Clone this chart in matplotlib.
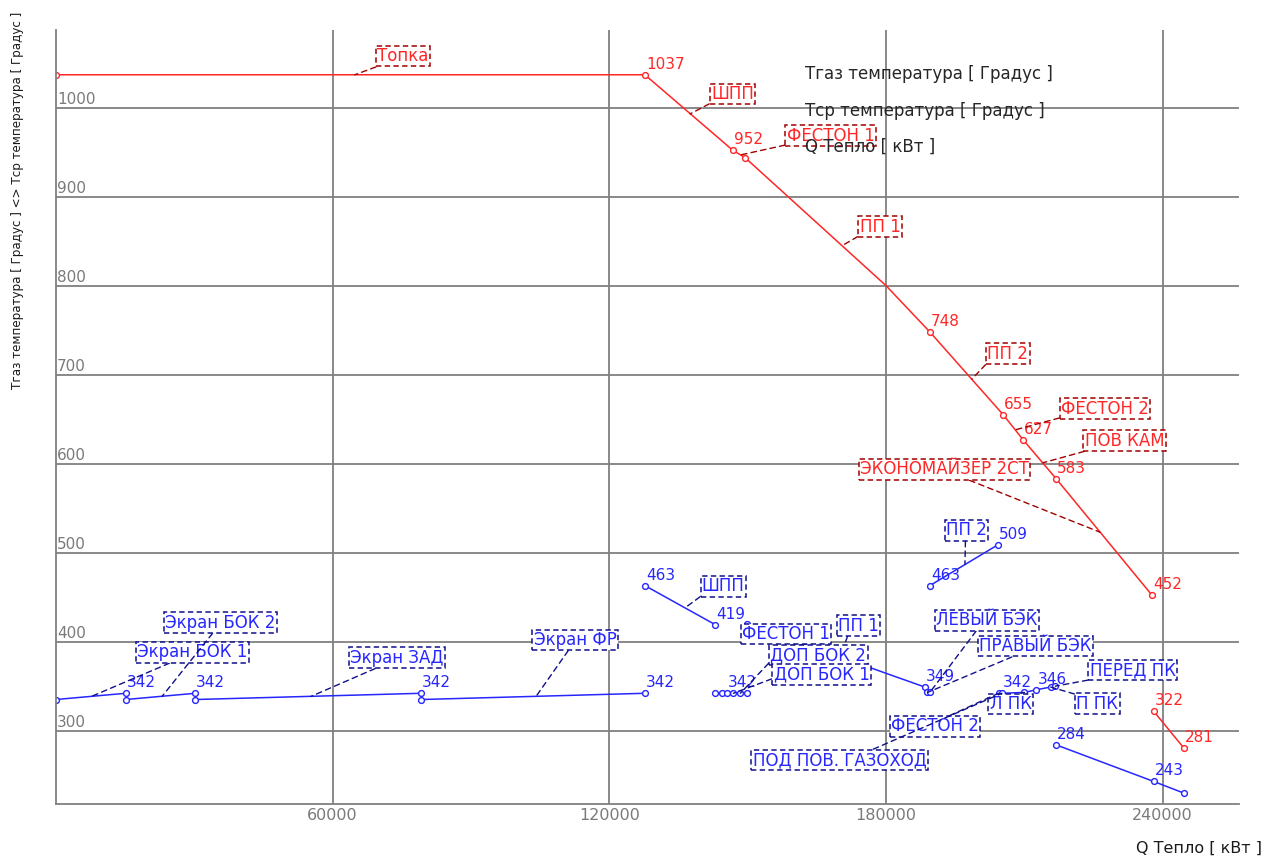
import matplotlib
matplotlib.use("Agg")
import matplotlib.pyplot as plt

# ---------------- data ----------------
# Gas temperature (red) main path
gas_q = [0, 127700, 146800, 149400, 180000, 189500, 205400, 209700, 216900, 237700]
gas_t = [1037, 1037, 952, 944, 800, 748, 655, 627, 583, 452]
gas_marked = [0, 1, 2, 3, 5, 6, 7, 8, 9]
gas_q2 = [238000, 244500]
gas_t2 = [322, 281]

# Medium temperature (blue) segments
seg_bok1_q, seg_bok1_t = [0, 15100], [335, 342]
seg_bok2_q, seg_bok2_t = [15100, 30200], [335, 342]
seg_zad_q, seg_zad_t = [30200, 79200], [335, 342]
seg_fr_q, seg_fr_t = [79200, 127700], [335, 342]
seg_shpp_q, seg_shpp_t = [127700, 143000], [463, 419]
seg_dop_q = [142900, 144400, 145500, 146900, 148400, 149800]
seg_dop_t = [342, 342, 342, 342, 342, 342]
seg_fest1_q, seg_fest1_t = [149800, 188400], [420, 349]
seg_bek_q, seg_bek_t = [188800, 189500], [343, 343]
seg_pp2_q, seg_pp2_t = [189500, 204300], [463, 509]
seg_pk_q = [204400, 205100, 210000, 212600, 215700, 216700]
seg_pk_t = [342, 342, 343, 346, 349, 350]
seg_eco_q, seg_eco_t = [216900, 238000, 244500], [284, 243, 230]

# value labels (Q, T)
red_val_q = [127700, 146800, 189500, 205400, 209700, 216900, 237700, 238000, 244500]
red_val_t = [1037, 952, 748, 655, 627, 583, 452, 322, 281]
blue_val_q = [15100, 30200, 79200, 127700, 127700, 143000, 145500, 188400, 189500, 204300,
              205100, 212600, 216900, 238000]
blue_val_t = [342, 342, 342, 342, 463, 419, 342, 349, 463, 509, 342, 346, 284, 243]

# section labels: text, box centre (Q, T), leader target (Q, T), relpos
red_labels = [
    ("Топка", (75150, 1058), (64800, 1037), (0.08, 0.0)),
    ("ШПП", (146700, 1015.5), (137500, 993), (0.0, 0.0)),
    ("ФЕСТОН 1", (168000, 968.5), (148500, 947), (0.0, 0.0)),
    ("ПП 1", (178700, 866.5), (170800, 846), (0.0, 0.0)),
    ("ПП 2", (206400, 723.5), (198600, 695), (0.0, 0.0)),
    ("ФЕСТОН 2", (227500, 662), (208000, 638), (0.0, 0.0)),
    ("ПОВ КАМ", (231700, 626), (214000, 601), (0.08, 0.0)),
    ("ЭКОНОМАЙЗЕР 2СТ", (192700, 593.5), (226400, 523), (0.62, 0.0)),
]
blue_labels = [
    ("Экран БОК 1", (29600, 388), (7700, 338.5), (0.33, 0.0)),
    ("Экран БОК 2", (35700, 421.5), (23000, 338.5), (0.44, 0.0)),
    ("Экран ЗАД", (74000, 382), (55300, 338.5), (0.31, 0.0)),
    ("Экран ФР", (112600, 402), (104100, 338.5), (0.43, 0.0)),
    ("ШПП", (144700, 462), (136400, 438), (0.0, 0.0)),
    ("ФЕСТОН 1", (158300, 408.5), (162400, 397), (0.44, 0.0)),
    ("ПП 1", (174000, 418), (170000, 383), (0.25, 0.0)),
    ("ДОП БОК 2", (165300, 385), (148400, 342), (0.01, 0.2)),
    ("ДОП БОК 1", (166000, 363), (146900, 342), (0.0, 0.3)),
    ("ЛЕВЫЙ БЭК", (201800, 424), (189500, 343), (0.41, 0.0)),
    ("ПРАВЫЙ БЭК", (212400, 395), (189000, 343), (0.33, 0.0)),
    ("ПП 2", (197400, 525), (197100, 487), (0.48, 0.0)),
    ("ПЕРЕД ПК", (233500, 368), (216700, 350), (0.04, 0.0)),
    ("П ПК", (225800, 330.5), (215700, 349), (0.0, 1.0)),
    ("Л ПК", (207000, 330), (210000, 343), (0.5, 1.0)),
    ("ФЕСТОН 2", (190600, 304.7), (204400, 342), (0.62, 1.0)),
    ("ПОД ПОВ. ГАЗОХОД", (169900, 267), (205100, 342), (0.67, 1.0)),
]

x_ticks = [60000, 120000, 180000, 240000]
y_ticks = [300, 400, 500, 600, 700, 800, 900, 1000]
legend_lines = ["Tгаз температура [ Градус ]", "Tср температура [ Градус ]", "Q Тепло [ кВт ]"]

# ---------------- style ----------------
RED = "#ff2626"
RED_DARK = "#a00000"
BLUE = "#2626ff"
BLUE_DARK = "#10108a"
GRID = "#808080"
TICK = "#7a7a7a"
FS = 11
FS_BOX = 12

plt.rcParams["font.family"] = ["DejaVu Sans"]

fig = plt.figure(figsize=(12.8, 8.57), dpi=100)
ax = fig.add_axes([56 / 1280, 1 - 804 / 857, (1239.3 - 56) / 1280, (804 - 30) / 857])
ax.set_xlim(0, 256600)
ax.set_ylim(217.6, 1087.3)

for s in ("top", "right"):
    ax.spines[s].set_visible(False)
for s in ("left", "bottom"):
    ax.spines[s].set_color(GRID)
    ax.spines[s].set_linewidth(1.3)

ax.set_xticks(x_ticks)
ax.set_xticklabels([str(v) for v in x_ticks])
ax.set_yticks(y_ticks)
ax.set_yticklabels([])
ax.tick_params(axis="x", length=0, pad=3, labelsize=11.5, labelcolor=TICK)
ax.tick_params(axis="y", length=0)
ax.grid(True, color=GRID, linewidth=1.3)
ax.set_axisbelow(True)

for v in y_ticks:
    ax.annotate(str(v), xy=(0, v), xycoords=("axes fraction", "data"),
                xytext=(1, 4), textcoords="offset pixels", va="baseline", ha="left",
                fontsize=11, color=TICK)

mk = dict(marker="o", markersize=4.2, markerfacecolor="white", markeredgewidth=1.0)

# red
ax.plot(gas_q, gas_t, color=RED, lw=1.1, markevery=gas_marked, markeredgecolor=RED, **mk)
ax.plot(gas_q2, gas_t2, color=RED, lw=1.1, markeredgecolor=RED, **mk)

# blue
blue_segments = [
    (seg_bok1_q, seg_bok1_t), (seg_bok2_q, seg_bok2_t), (seg_zad_q, seg_zad_t),
    (seg_fr_q, seg_fr_t), (seg_shpp_q, seg_shpp_t), (seg_dop_q, seg_dop_t),
    (seg_fest1_q, seg_fest1_t), (seg_bek_q, seg_bek_t), (seg_pp2_q, seg_pp2_t),
    (seg_pk_q, seg_pk_t), (seg_eco_q, seg_eco_t),
]
for q, t in blue_segments:
    ax.plot(q, t, color=BLUE, lw=1.1, markeredgecolor=BLUE, **mk)

# value labels
for q, t in zip(red_val_q, red_val_t):
    ax.annotate(f"{t:.0f}", xy=(q, t), xytext=(1, 6), textcoords="offset pixels",
                fontsize=FS, color=RED, ha="left", va="baseline", zorder=4)
for q, t in zip(blue_val_q, blue_val_t):
    ax.annotate(f"{t:.0f}", xy=(q, t), xytext=(1, 6), textcoords="offset pixels",
                fontsize=FS, color=BLUE, ha="left", va="baseline", zorder=4)

# section labels with dashed boxes and leaders
def boxed(labels, tcol, dcol):
    for text, pos, target, rp in labels:
        ax.annotate(text, xy=target, xytext=pos, ha="center", va="center",
                    fontsize=FS_BOX, color=tcol, zorder=5,
                    bbox=dict(boxstyle="square,pad=0.08", fc="white", ec=dcol,
                              lw=1.1, ls=(0, (3.5, 2.2))),
                    arrowprops=dict(arrowstyle="-", color=dcol, lw=1.0,
                                    ls=(0, (4, 3)), shrinkA=0, shrinkB=0, relpos=rp))

boxed(red_labels, RED, RED_DARK)
boxed(blue_labels, BLUE, BLUE_DARK)

# legend-like texts
for i, s in enumerate(legend_lines):
    fig.text(805 / 1280, 1 - (74 + 36.5 * i) / 857, s, ha="left", va="center",
             fontsize=12, color="#262626", zorder=10)

fig.text(18 / 1280, 1 - 200 / 857,
         "Tгаз температура [ Градус ] <> Tср температура [ Градус ]",
         rotation=90, ha="center", va="center", fontsize=8.6, color="#1a1a1a")
fig.text(1262 / 1280, 1 - 848 / 857, "Q Тепло [ кВт ]", ha="right", va="center",
         fontsize=11.5, color="#1a1a1a")

fig.savefig("out.png", dpi=100, facecolor="white")
